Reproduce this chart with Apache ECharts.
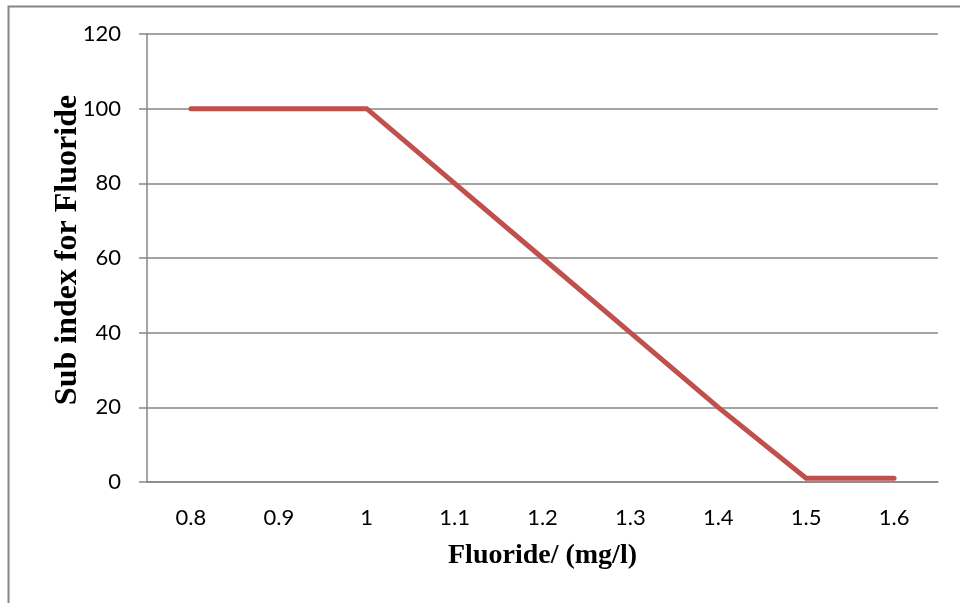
<!DOCTYPE html>
<html>
<head>
<meta charset="utf-8">
<script src="https://cdn.jsdelivr.net/npm/echarts@6/dist/echarts.min.js"></script>
<style>
  html, body { margin: 0; padding: 0; background: #fff; }
  #chart { width: 960px; height: 603px; }
</style>
</head>
<body>
<div id="chart"></div>
<script>
// Fluoride concentration (mg/l) and its sub index
const fluorideLevels = ['0.8', '0.9', '1', '1.1', '1.2', '1.3', '1.4', '1.5', '1.6'];
const subIndex = [100, 100, 100, 80, 60, 40, 20, 1, 1];
const yTicks = { min: 0, max: 120, interval: 20 };

const chart = echarts.init(document.getElementById('chart'), null, { renderer: 'canvas' });

const gray = '#868686';
const labelFont = 'Lato, "Open Sans", "Noto Sans", sans-serif';
const titleFont = '"Liberation Serif", "Times New Roman", serif';

chart.setOption({
  animation: false,
  backgroundColor: '#fff',
  graphic: [{
    type: 'rect',
    left: 6, top: 4,
    shape: { width: 1000, height: 1000 },
    style: { fill: 'none', stroke: gray, lineWidth: 2 },
    silent: true
  }],
  grid: { left: 147, right: 22, top: 34, bottom: 121 },
  xAxis: {
    type: 'category',
    data: fluorideLevels,
    boundaryGap: true,
    name: 'Fluoride/ (mg/l)',
    nameLocation: 'middle',
    nameGap: 60,
    nameTextStyle: { fontFamily: titleFont, fontWeight: 'bold', fontSize: 28, color: '#000' },
    axisLine: { lineStyle: { color: gray, width: 1.5 } },
    axisTick: { show: false },
    axisLabel: { margin: 25, fontFamily: labelFont, fontSize: 22, color: '#000' },
    splitLine: { show: false }
  },
  yAxis: {
    type: 'value',
    min: yTicks.min, max: yTicks.max, interval: yTicks.interval,
    name: 'Sub index for Fluoride',
    nameLocation: 'middle',
    nameGap: 63,
    nameMoveOverlap: false,
    nameTextStyle: {
      fontFamily: titleFont, fontWeight: 'bold', fontSize: 32, color: '#000',
      padding: [0, 0, 0, 16]
    },
    axisLine: { show: true, lineStyle: { color: gray, width: 1.5 } },
    axisTick: { show: true, length: 8, lineStyle: { color: gray, width: 1.5 } },
    axisLabel: { margin: 26, fontFamily: labelFont, fontSize: 22, color: '#000' },
    splitLine: { show: true, lineStyle: { color: gray, width: 1.5 } }
  },
  series: [{
    type: 'line',
    data: subIndex,
    symbol: 'none',
    lineStyle: { color: '#C0504D', width: 5, cap: 'round', join: 'miter' }
  }]
});
</script>
</body>
</html>
